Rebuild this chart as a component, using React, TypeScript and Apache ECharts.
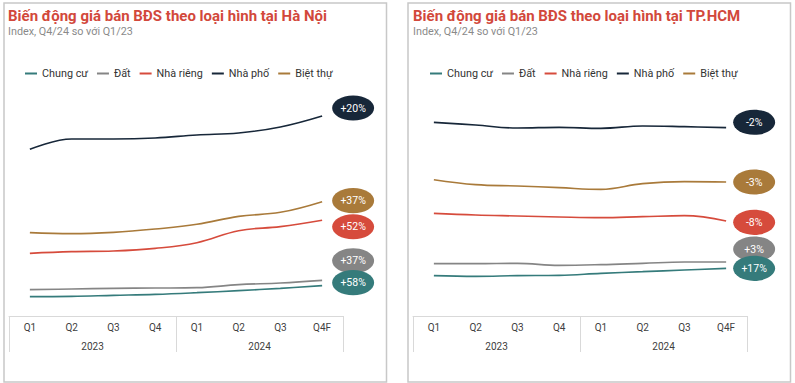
import React, { useEffect, useRef } from "react";
import * as echarts from "echarts";

const quarters = ["Q1", "Q2", "Q3", "Q4", "Q1", "Q2", "Q3", "Q4F"];
const years = ["2023", "2024"];
const seriesNames = ["Chung cư", "Đất", "Nhà riêng", "Nhà phố", "Biệt thự"];
const colors = ["#357b7b", "#858585", "#d64b3c", "#172739", "#a97a3a"];

// Hà Nội (index-like price level)
const hnChungCu = [29, 29.5, 31, 32.5, 35, 38, 41.5, 45.5];
const hnDat = [39.5, 40.5, 41.5, 42, 42.5, 47, 49.5, 53.5];
const hnNhaRieng = [94, 96.5, 97.5, 101.5, 110, 128, 134, 143.5];
const hnNhaPho = [250, 265.5, 265.5, 267, 271.5, 274.5, 283.5, 300];
const hnBietThu = [125, 123.5, 125.5, 130.5, 137.5, 149.5, 155.5, 171.5];
const hnBadges = ["+58%", "+37%", "+52%", "+20%", "+37%"];

// TP.HCM
const hcmChungCu = [60.5, 59.5, 60.5, 61, 64, 66.5, 69, 71.5];
const hcmDat = [78.5, 78.5, 79, 76, 77, 79, 81, 81];
const hcmNhaRieng = [154, 151.5, 150, 148.5, 147.5, 149, 150.5, 142.5];
const hcmNhaPho = [290.5, 286.5, 282, 283, 281.5, 285, 284, 282.5];
const hcmBietThu = [204.5, 197, 195, 192.5, 190, 198.5, 201.5, 201];
const hcmBadges = ["+17%", "+3%", "-8%", "-2%", "-3%"];

const hnData = [hnChungCu, hnDat, hnNhaRieng, hnNhaPho, hnBietThu];
const hcmData = [hcmChungCu, hcmDat, hcmNhaRieng, hcmNhaPho, hcmBietThu];

// badge placement relative to line end (styling)
const hnBadgeOffset = [[31, -3], [31, -19.6], [31, 6.4], [31, -8], [31, -1]];
const hcmBadgeOffset = [[28, 0], [28, -13], [28, 1.3], [28, -5.4], [28, 0]];
const badgeOrder = [3, 4, 2, 1, 0];

const FONT = "Roboto, 'Noto Sans', sans-serif";

export default function App() {
  const ref = useRef<HTMLDivElement>(null);
  useEffect(() => {
    if (!ref.current) return;
    const chart = echarts.init(ref.current, null, { renderer: "svg" });
    const mkX = (gridIndex: number) => [
      {
        type: "category",
        gridIndex,
        position: "bottom",
        data: quarters,
        boundaryGap: true,
        axisLine: { show: true, lineStyle: { color: "#d9d9d9", width: 1 } },
        axisTick: { show: false },
        axisLabel: { color: "#404040", fontSize: 10, fontFamily: FONT, margin: 6, interval: 0 },
      },
      {
        type: "category",
        gridIndex,
        position: "bottom",
        data: years,
        boundaryGap: true,
        axisLine: { show: false },
        axisTick: { show: true, length: 36, interval: 0, alignWithLabel: false, lineStyle: { color: "#d9d9d9", width: 1 } },
        axisLabel: { color: "#404040", fontSize: 10, fontFamily: FONT, margin: 25, interval: 0 },
      },
    ];
    const mkY = (gridIndex: number) => ({
      type: "value",
      gridIndex,
      min: 0,
      max: 330,
      show: false,
      splitLine: { show: false },
    });
    const mkSeries = (data: number[][], xAxisIndex: number, yAxisIndex: number) =>
      data.map((d, i) => ({
        type: "line",
        name: seriesNames[i],
        xAxisIndex,
        yAxisIndex,
        data: d,
        smooth: 0.4,
        symbol: "none",
        lineStyle: { color: colors[i], width: 1.6 },
        itemStyle: { color: colors[i] },
        z: 2,
      }));
    const mkLegend = (left: number) => ({
      data: seriesNames,
      left,
      top: 68,
      padding: 0,
      icon: "rect",
      itemWidth: 12,
      itemHeight: 2,
      itemGap: 9,
      textStyle: { color: "#333", fontSize: 10.8, fontFamily: FONT },
    });
    const option: any = {
      animation: false,
      backgroundColor: "#fff",
      title: [
        {
          text: "Biến động giá bán BĐS theo loại hình tại Hà Nội",
          subtext: "Index, Q4/24 so với Q1/23",
          left: 8,
          top: 8,
          padding: 0,
          itemGap: 3,
          textStyle: { color: "#d2483b", fontSize: 15, fontWeight: "bold", fontFamily: FONT },
          subtextStyle: { color: "#8a8a8a", fontSize: 10.8, fontFamily: FONT },
        },
        {
          text: "Biến động giá bán BĐS theo loại hình tại TP.HCM",
          subtext: "Index, Q4/24 so với Q1/23",
          left: 413,
          top: 8,
          padding: 0,
          itemGap: 3,
          textStyle: { color: "#d2483b", fontSize: 15, fontWeight: "bold", fontFamily: FONT },
          subtextStyle: { color: "#8a8a8a", fontSize: 10.8, fontFamily: FONT },
        },
      ],
      legend: [mkLegend(25), mkLegend(430)],
      grid: [
        { left: 9, right: 795 - 343, top: 96, bottom: 383 - 316 },
        { left: 413, right: 795 - 747, top: 96, bottom: 383 - 316 },
      ],
      xAxis: [...mkX(0), ...mkX(1)],
      yAxis: [mkY(0), mkY(1)],
      series: [...mkSeries(hnData, 0, 0), ...mkSeries(hcmData, 2, 1)],
    };
    chart.setOption(option);

    const graphics: any[] = [
      { type: "rect", shape: { x: 4, y: 3, width: 382.5, height: 379 }, style: { fill: "none", stroke: "#c8c8c8", lineWidth: 1.5 }, silent: true },
      { type: "rect", shape: { x: 408, y: 3, width: 382.5, height: 379 }, style: { fill: "none", stroke: "#c8c8c8", lineWidth: 1.5 }, silent: true },
    ];
    let zc = 10;
    const addBadges = (data: number[][], labels: string[], offsets: number[][], seriesBase: number) => {
      badgeOrder.forEach((i) => {
        const last = data[i].length - 1;
        const p = chart.convertToPixel({ seriesIndex: seriesBase + i }, [last, data[i][last]]) as number[];
        if (!p) return;
        const cx = p[0] + offsets[i][0];
        const cy = p[1] + offsets[i][1];
        zc += 2;
        graphics.push({
          type: "ellipse",
          shape: { cx, cy, rx: 21, ry: 12.6 },
          style: { fill: colors[i] },
          z: zc,
          silent: true,
        });
        graphics.push({
          type: "text",
          x: cx,
          y: cy,
          style: {
            text: labels[i],
            fill: "#ffffff",
            fontSize: 10.5,
            fontFamily: FONT,
            align: "center",
            verticalAlign: "middle",
            textAlign: "center",
            textVerticalAlign: "middle",
          },
          z: zc + 1,
          silent: true,
        });
      });
    };
    addBadges(hnData, hnBadges, hnBadgeOffset, 0);
    addBadges(hcmData, hcmBadges, hcmBadgeOffset, 5);
    chart.setOption({ graphic: graphics });

    return () => chart.dispose();
  }, []);
  return (
    <div
      ref={ref}
      style={{ position: "fixed", left: 0, top: 0, width: 795, height: 383, background: "#fff" }}
    />
  );
}
